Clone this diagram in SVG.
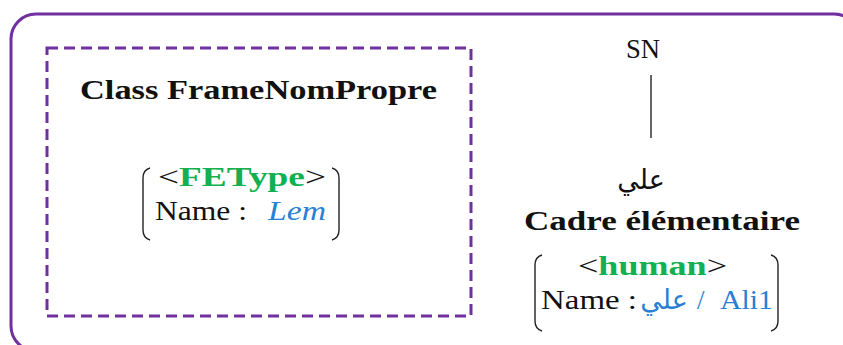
<svg xmlns="http://www.w3.org/2000/svg" width="843" height="345" viewBox="0 0 843 345">
<style>
.t{font-family:"Liberation Serif","DejaVu Serif",serif;font-size:27px;fill:#111}
.b{font-weight:bold}
.g{fill:#12b050;font-weight:bold}
.bl{fill:#2a7fd4}
.ar{font-family:"DejaVu Sans","Noto Sans",sans-serif;font-size:27px}
.br{fill:none;stroke:#222;stroke-width:1.4}
</style>
<rect x="11" y="14" width="848" height="337" rx="25" fill="none" stroke="#7030a0" stroke-width="3"/>
<g id="frame">
<rect x="47" y="48" width="424" height="268" fill="none" stroke="#7030a0" stroke-width="3" stroke-dasharray="11,6"/>
<text class="t b" x="80" y="99" textLength="357" lengthAdjust="spacingAndGlyphs">Class FrameNomPropre</text>
<text class="t" x="158" y="186" textLength="168" lengthAdjust="spacingAndGlyphs">&lt;<tspan class="g">FEType</tspan>&gt;</text>
<text class="t" x="155" y="220" textLength="92" lengthAdjust="spacingAndGlyphs">Name :</text>
<text class="t bl" x="268" y="220" font-style="italic" textLength="58" lengthAdjust="spacingAndGlyphs">Lem</text>
<path class="br" d="M150,168 Q143,170 143,178 L143,230 Q143,238 150,240"/>
<path class="br" d="M332,168 Q339,170 339,178 L339,230 Q339,238 332,240"/>
</g>
<g id="connectors">
<line x1="651" y1="75" x2="651" y2="138" stroke="#111" stroke-width="1.3"/>
</g>
<g id="sn">
<text class="t" x="626" y="58" textLength="34" lengthAdjust="spacingAndGlyphs">SN</text>
</g>
<g id="cadre">
<text class="t ar" x="641" y="189" text-anchor="middle">علي</text>
<text class="t b" x="524" y="230" textLength="276" lengthAdjust="spacingAndGlyphs">Cadre élémentaire</text>
<text class="t" x="578" y="275" textLength="149" lengthAdjust="spacingAndGlyphs">&lt;<tspan class="g">human</tspan>&gt;</text>
<text class="t" x="541" y="309" textLength="96" lengthAdjust="spacingAndGlyphs">Name :</text>
<text class="t ar bl" x="664" y="309" text-anchor="middle">علي</text>
<text class="t bl" x="697" y="309">/</text>
<text class="t bl" x="720" y="309" textLength="53" lengthAdjust="spacingAndGlyphs">Ali1</text>
<path class="br" d="M542,255 Q535,257 535,265 L535,321 Q535,329 542,331"/>
<path class="br" d="M771,255 Q778,257 778,265 L778,321 Q778,329 771,331"/>
</g>
</svg>
